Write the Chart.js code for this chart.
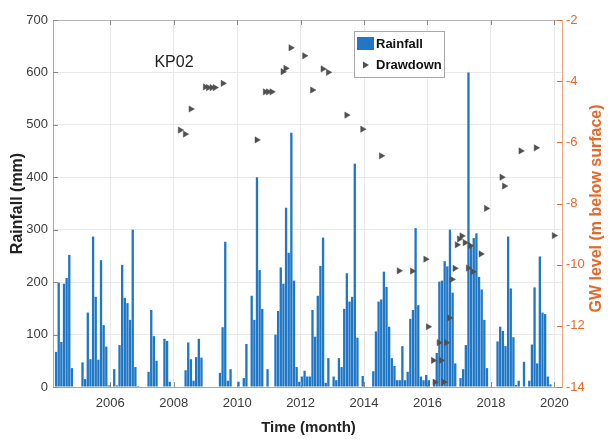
<!DOCTYPE html>
<html>
<head>
<meta charset="utf-8">
<script src="https://cdn.jsdelivr.net/npm/chart.js@4/dist/chart.umd.min.js"></script>
<style>
  html, body { margin: 0; padding: 0; background: #fff; }
  canvas { display: block; }
</style>
</head>
<body>
<canvas id="chart" width="608" height="439"></canvas>
<script>
// monthly rainfall (mm), Jan..Dec
const rain2004 = [0, 0, 0, 67, 199, 86, 197, 208, 252, 36, 0, 0];
const rain2005 = [0, 47, 15, 142, 53, 287, 172, 52, 242, 118, 77, 3];
const rain2006 = [0, 34, 3, 80, 233, 170, 160, 128, 300, 38, 2, 0];
const rain2007 = [0, 0, 29, 147, 97, 50, 0, 0, 92, 88, 10, 0];
const rain2008 = [0, 0, 0, 0, 32, 85, 53, 12, 57, 92, 56, 0];
const rain2009 = [0, 0, 0, 0, 0, 27, 114, 277, 12, 34, 0, 0];
const rain2010 = [10, 0, 17, 82, 0, 174, 128, 400, 223, 149, 0, 34];
const rain2011 = [0, 0, 100, 145, 228, 197, 342, 256, 485, 203, 38, 10];
const rain2012 = [20, 31, 20, 20, 147, 96, 174, 231, 285, 8, 55, 0];
const rain2013 = [20, 13, 55, 38, 149, 217, 163, 172, 426, 94, 0, 21];
const rain2014 = [0, 0, 0, 30, 106, 163, 167, 220, 191, 115, 55, 40];
const rain2015 = [13, 13, 78, 13, 29, 130, 147, 303, 156, 20, 13, 23];
const rain2016 = [13, 0, 13, 65, 201, 203, 240, 230, 300, 180, 45, 0];
const rain2017 = [17, 34, 80, 600, 271, 284, 293, 210, 186, 128, 36, 0];
const rain2018 = [0, 0, 87, 115, 107, 78, 287, 188, 95, 4, 12, 0];
const rain2019 = [48, 0, 12, 81, 190, 45, 249, 142, 139, 20, 5, 0];
const rainYears = [2004, 2005, 2006, 2007, 2008, 2009, 2010, 2011, 2012, 2013, 2014, 2015, 2016, 2017, 2018, 2019];
const rainRows = [rain2004, rain2005, rain2006, rain2007, rain2008, rain2009, rain2010, rain2011,
                  rain2012, rain2013, rain2014, rain2015, rain2016, rain2017, rain2018, rain2019];

// drawdown observations: decimal year and GW level (m below surface)
const ddYear = [2008.20, 2008.36, 2008.54, 2008.99, 2009.09, 2009.20, 2009.30, 2009.55,
                2010.62, 2010.88, 2010.98, 2011.09, 2011.44, 2011.53, 2011.69, 2012.12,
                2012.37, 2012.70, 2012.87, 2013.45, 2013.95, 2014.54, 2015.10, 2015.52,
                2015.94, 2016.02, 2016.18, 2016.23, 2016.36, 2016.43, 2016.51, 2016.59,
                2016.69, 2016.77, 2016.86, 2016.93, 2017.00, 2017.08, 2017.18, 2017.28,
                2017.35, 2017.43, 2017.68, 2017.85, 2018.34, 2018.42, 2018.94, 2019.42, 2019.99];
const ddLevel = [-5.60, -5.73, -4.91, -4.19, -4.21, -4.21, -4.21, -4.07,
                 -5.92, -4.35, -4.35, -4.35, -3.69, -3.58, -2.91, -3.17,
                 -4.29, -3.60, -3.71, -5.11, -5.57, -6.44, -10.20, -10.21,
                 -9.82, -12.03, -13.13, -13.84, -12.55, -13.13, -13.84, -12.55,
                 -11.74, -10.48, -10.12, -9.35, -9.16, -9.06, -9.28, -10.11,
                 -9.38, -10.23, -9.65, -8.16, -7.14, -7.43, -6.28, -6.18, -9.05];

// ticks
const xTicks = [2006, 2008, 2010, 2012, 2014, 2016, 2018, 2020];
const rainTicks = [0, 100, 200, 300, 400, 500, 600, 700];
const gwTicks = [-14, -12, -10, -8, -6, -4, -2];

const FONT = "'Liberation Sans', Arial, sans-serif";
const ORANGE = '#e4692a';
const BLUE = '#1f77c6';
const MARK = '#505050';

const rainPoints = [];
rainYears.forEach((yr, i) => {
    rainRows[i].forEach((v, m) => {
        rainPoints.push({ x: yr + (m + 0.5) / 12, y: v });
    });
});
const ddPoints = ddYear.map((x, i) => ({ x: x, y: ddLevel[i] }));

// extra drawing: inward ticks, top frame, axis titles, label and legend
const decorations = {
    id: 'decorations',
    beforeDraw(chart) {
        const c = chart.ctx;
        c.save();
        c.fillStyle = '#fff';
        c.fillRect(0, 0, chart.width, chart.height);
        c.restore();
    },
    afterDraw(chart) {
        const c = chart.ctx;
        const a = chart.chartArea;
        const sx = chart.scales.x, sy = chart.scales.y, sy2 = chart.scales.y2;
        c.save();

        // top frame line
        c.strokeStyle = '#b4b4b4';
        c.lineWidth = 1;
        c.beginPath();
        c.moveTo(a.left, a.top + 0.5);
        c.lineTo(a.right, a.top + 0.5);
        c.stroke();

        // inward tick marks
        c.strokeStyle = '#8a8a8a';
        c.beginPath();
        xTicks.forEach(v => {
            const px = Math.round(sx.getPixelForValue(v)) + 0.5;
            c.moveTo(px, a.bottom); c.lineTo(px, a.bottom - 5);
            c.moveTo(px, a.top); c.lineTo(px, a.top + 5);
        });
        rainTicks.forEach(v => {
            const py = Math.round(sy.getPixelForValue(v)) + 0.5;
            c.moveTo(a.left, py); c.lineTo(a.left + 5, py);
        });
        c.stroke();
        c.strokeStyle = ORANGE;
        c.beginPath();
        gwTicks.forEach(v => {
            const py = Math.round(sy2.getPixelForValue(v)) + 0.5;
            c.moveTo(a.right, py); c.lineTo(a.right - 5, py);
        });
        c.stroke();

        // axis titles
        c.textAlign = 'center';
        c.textBaseline = 'middle';
        c.fillStyle = '#222';
        c.font = 'bold 15px ' + FONT;
        c.fillText('Time (month)', (a.left + a.right) / 2 + 1, 428);

        c.save();
        c.translate(18, (a.top + a.bottom) / 2);
        c.rotate(-Math.PI / 2);
        c.font = 'bold 16px ' + FONT;
        c.fillText('Rainfall (mm)', 0, 0);
        c.restore();

        c.save();
        c.translate(597, (a.top + a.bottom) / 2 + 5);
        c.rotate(-Math.PI / 2);
        c.fillStyle = ORANGE;
        c.font = 'bold 16px ' + FONT;
        c.fillText('GW level (m below surface)', 0, 0);
        c.restore();

        // well label
        c.fillStyle = '#222';
        c.font = '16px ' + FONT;
        c.fillText('KP02', 174, 63);

        // legend
        const lx = 354, ly = 31, lw = 90, lh = 46;
        c.fillStyle = '#fff';
        c.fillRect(lx, ly, lw, lh);
        c.strokeStyle = '#a8a8a8';
        c.strokeRect(lx + 0.5, ly + 0.5, lw, lh);
        c.fillStyle = BLUE;
        c.fillRect(lx + 3, ly + 6, 17, 13);
        c.fillStyle = MARK;
        c.beginPath();
        c.moveTo(lx + 15, ly + 34);
        c.lineTo(lx + 9, ly + 30.5);
        c.lineTo(lx + 9, ly + 37.5);
        c.closePath();
        c.fill();
        c.fillStyle = '#111';
        c.font = 'bold 13px ' + FONT;
        c.textAlign = 'left';
        c.fillText('Rainfall', lx + 22, ly + 13);
        c.fillText('Drawdown', lx + 22, ly + 34);

        c.restore();
    }
};

const ctx = document.getElementById('chart').getContext('2d');
const chart = new Chart(ctx, {
    type: 'bar',
    data: {
        datasets: [{
            type: 'line',
            label: 'Drawdown',
            data: ddPoints,
            yAxisID: 'y2',
            showLine: false,
            pointStyle: 'triangle',
            pointRotation: 90,
            pointRadius: 3.6,
            pointBorderWidth: 0.5,
            backgroundColor: MARK,
            borderColor: MARK,
            order: 1
        }, {
            type: 'bar',
            label: 'Rainfall',
            data: rainPoints,
            yAxisID: 'y',
            backgroundColor: BLUE,
            borderWidth: 0,
            barPercentage: 1,
            categoryPercentage: 0.88,
            order: 2
        }]
    },
    options: {
        responsive: false,
        animation: false,
        events: [],
        layout: { padding: { top: 20, left: 0, right: 0, bottom: 0 } },
        plugins: {
            legend: { display: false },
            tooltip: { enabled: false }
        },
        scales: {
            x: {
                type: 'linear',
                min: 2004.195,
                max: 2020.24,
                offset: false,
                afterBuildTicks: s => { s.ticks = xTicks.map(v => ({ value: v })); },
                afterFit: s => { s.height = 52; },
                grid: { color: '#e9e9e9', drawTicks: false, offset: false },
                border: { color: '#a8a8a8' },
                ticks: {
                    padding: 9,
                    color: '#3c3c3c',
                    font: { family: FONT, size: 13 },
                    maxRotation: 0,
                    callback: v => String(v)
                }
            },
            y: {
                position: 'left',
                min: 0,
                max: 700,
                afterBuildTicks: s => { s.ticks = rainTicks.map(v => ({ value: v })); },
                afterFit: s => { s.width = 53; },
                grid: { color: '#e9e9e9', drawTicks: false },
                border: { color: '#a8a8a8' },
                ticks: {
                    padding: 5,
                    color: '#3c3c3c',
                    font: { family: FONT, size: 13 }
                }
            },
            y2: {
                position: 'right',
                min: -14,
                max: -2,
                afterBuildTicks: s => { s.ticks = gwTicks.map(v => ({ value: v })); },
                afterFit: s => { s.width = 46; },
                grid: { drawOnChartArea: false, drawTicks: false },
                border: { color: '#f0a27c' },
                ticks: {
                    padding: 4,
                    color: ORANGE,
                    font: { family: FONT, size: 13 }
                }
            }
        }
    },
    plugins: [decorations]
});
</script>
</body>
</html>
